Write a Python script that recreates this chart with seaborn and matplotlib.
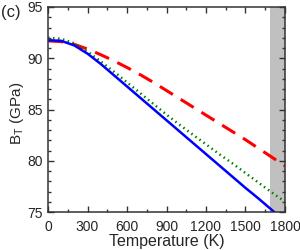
import numpy as np
import pandas as pd
import matplotlib
matplotlib.use('Agg')
import matplotlib.pyplot as plt
import seaborn as sns
from matplotlib.ticker import MultipleLocator

# temperature grid (K) and isothermal bulk modulus (GPa)
temps = [0, 100, 200, 300, 400, 500, 600, 700, 800, 900,
         1000, 1100, 1200, 1300, 1400, 1500, 1600, 1700, 1800]
bt_blue = [91.75, 91.7, 91.25, 90.45, 89.45, 88.35, 87.25, 86.15, 85.05, 83.95,
           82.85, 81.75, 80.65, 79.55, 78.45, 77.35, 76.3, 75.2, 74.1]
bt_green = [92.0, 91.9, 91.45, 90.65, 89.7, 88.7, 87.65, 86.6, 85.55, 84.5,
            83.5, 82.55, 81.6, 80.65, 79.75, 78.8, 77.85, 76.9, 76.0]
bt_red = [91.7, 91.62, 91.35, 90.9, 90.35, 89.75, 89.1, 88.4, 87.65, 86.85,
          86.05, 85.25, 84.45, 83.65, 82.85, 82.05, 81.2, 80.35, 79.5]
melt_band = (1685, 1800)

sns.set_style('ticks')
plt.rcParams['font.family'] = ['Liberation Sans', 'DejaVu Sans']

df = pd.DataFrame({'T': temps, 'blue': bt_blue, 'green': bt_green, 'red': bt_red})

fig, ax = plt.subplots(figsize=(3, 2.5), dpi=100)
fig.subplots_adjust(left=0.16, right=0.95, top=0.972, bottom=0.152)

ax.axvspan(melt_band[0], melt_band[1], color='#c0c0c0', lw=0, zorder=0)

sns.lineplot(data=df, x='T', y='red', ax=ax, color='#ff0000', lw=2.2)
ax.lines[-1].set_dashes([5, 3])
sns.lineplot(data=df, x='T', y='green', ax=ax, color='#008000', lw=1.8)
ax.lines[-1].set_linestyle((0, (0.6, 1.4)))
sns.lineplot(data=df, x='T', y='blue', ax=ax, color='#0000ff', lw=1.8)

ax.set_xlim(0, 1800)
ax.set_ylim(75, 95)
ax.set_xticks(range(0, 1801, 300))
ax.set_yticks(range(75, 96, 5))
ax.xaxis.set_minor_locator(MultipleLocator(150))
ax.yaxis.set_minor_locator(MultipleLocator(1))
ax.tick_params(which='both', direction='in', top=True, right=True,
               labelsize=10, color='#333333', width=1)
ax.tick_params(which='major', length=4)
ax.tick_params(which='minor', length=2.5)
ax.tick_params(axis='x', pad=6)
ax.tick_params(axis='y', pad=4)
for s in ax.spines.values():
    s.set_linewidth(1.1)
    s.set_color('#333333')

ax.set_xlabel('Temperature (K)', fontsize=11.5, labelpad=0)
ax.set_ylabel('B$_\\mathregular{T}$ (GPa)', fontsize=11)
ax.yaxis.set_label_coords(-0.092, 0.48)
fig.text(0.005, 0.952, '(c)', fontsize=12, ha='left', va='center')

fig.savefig('out.png', dpi=100)
